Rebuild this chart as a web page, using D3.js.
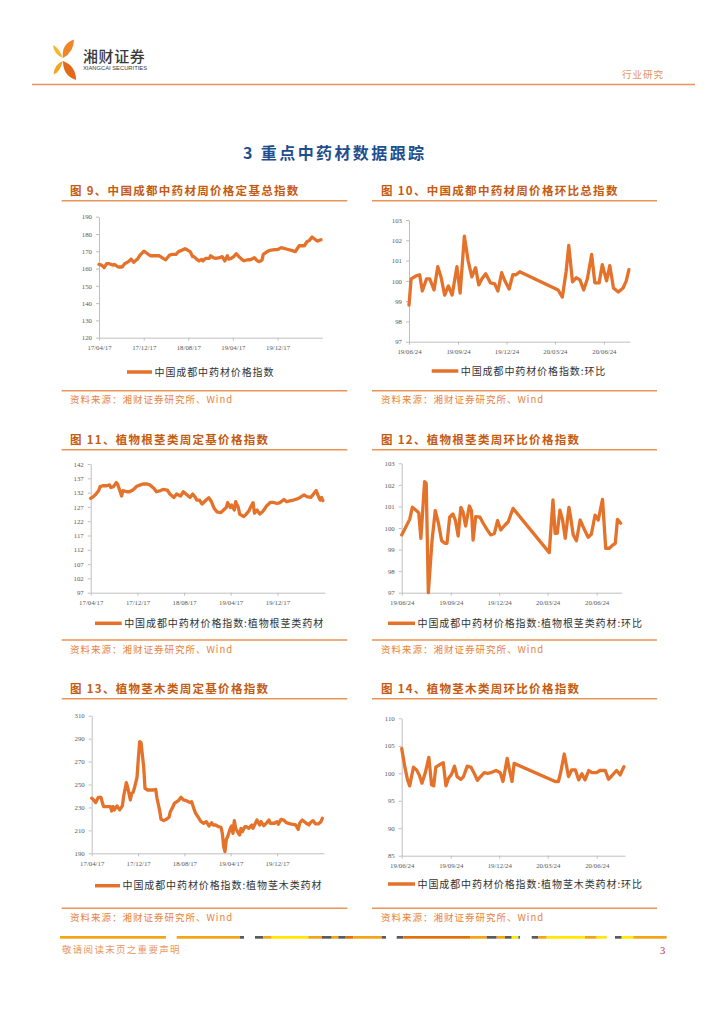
<!DOCTYPE html>
<html><head><meta charset="utf-8">
<script src="https://cdn.jsdelivr.net/npm/d3@7"></script>
<style>body{margin:0;background:#fff}svg{display:block}</style>
</head><body>
<svg id="c" width="724" height="1024"></svg>
<script>
// ---------------- DATA ----------------
const fixedStart = "2017-04-17";
const ringStart = "2019-06-24";
const fixedTicks = ["2017-04-17","2017-12-17","2018-08-17","2019-04-17","2019-12-17"];
const ringTicks = ["2019-06-24","2019-09-24","2019-12-24","2020-03-24","2020-06-24"];

// Fig 9: weeks since fixedStart / index values
const c9Week = [0,2,4,6,8,11,12,15,18,20,23,25,27,30,32,35,37,40,42,45,47,50,52,55,57,60,62,65,67,69,71,73,74,76,78,80,81,83,86,87,89,91,94,96,98,100,101,103,105,107,109,111,113,116,118,121,123,125,127,128,131,133,137,139,142,146,150,153,156,160,162,164,166,168,170,173];
const c9Val = [162.4,162,160.5,162.8,162.8,162,162.4,160.9,160.9,162.8,164,165.5,163.6,165.5,167.8,170.1,169,167.4,167.4,167.4,167.4,165.9,165.1,167.8,168.2,168.2,169.8,170.7,171.5,170.7,169.8,166.9,166.9,165.5,164.4,165.3,164.4,165.9,165.9,167.4,166.3,165.9,166.3,166.9,164.4,167.4,165.5,165.9,166.9,168.6,166.9,165.5,164.5,165.1,165.1,166.3,164.7,164,164.9,168.2,169.8,170.5,170.9,170.9,172.1,171.3,170.5,169.8,173.2,173.2,175.5,176.3,178.2,177.1,175.9,176.7];
const c9YTicks = [120,130,140,150,160,170,180,190];

// Fig 10: weeks since ringStart / ring index
const c10Week = [0,0.5,2,2.8,3.6,4.7,5.6,6.7,7.7,8.6,9.6,10.5,11.6,12.9,13.7,14.8,15.9,16.8,17.8,18.7,19.5,20.6,21.9,23,23.9,24.8,25.7,26.8,27.8,28.7,29.7,40,41.1,42.1,42.9,43.8,44.9,45.8,46.8,47.8,49,49.9,51,51.9,53,53.8,54.9,56.1,57.4,58.3,59];
const c10Val = [98.8,100.1,100.25,100.3,99.5,100.1,100.1,99.55,100.7,100.2,99.3,99.75,99.3,100.7,99.4,102.2,101,100.2,100.65,99.8,100.1,100.35,99.9,99.85,99.5,100.4,100,99.6,100.3,100.3,100.45,99.55,99.2,100.45,101.75,99.95,100.15,100.05,99.55,100.1,101.3,99.9,99.9,100.8,100,100.75,99.65,99.45,99.65,100,100.55];
const c10YTicks = [97,98,99,100,101,102,103];

// Fig 11
const c11Week = [0,2,4,6,7,9,12,14,15,17,19,20,22,23,24,27,29,32,34,37,39,42,44,47,49,52,54,57,59,62,64,67,69,71,74,76,78,79,81,83,86,88,90,92,94,97,99,101,102,104,105,107,108,110,111,114,116,118,119,121,122,124,126,128,129,131,134,136,139,141,144,146,149,151,154,156,159,161,164,166,168,170,171,172,173];
const c11Val = [130,130.6,131.5,132.7,134.1,134.4,134.4,134.7,133.8,134.1,135.5,135,132.3,130.8,132.7,132.3,132.3,133.1,134.1,134.7,135,135,134.7,133.5,132.3,132.7,133.1,132.9,131.5,130.3,131.5,130.8,132.3,131.5,130.3,131.5,130.3,129.4,129.4,128,129.4,130.2,128.8,126.5,125.3,125,125.9,126.8,128.5,126.8,127.7,125.9,128.8,126.8,124.5,123.6,124.5,125.7,126.8,128.5,124.8,125.9,124.5,125.3,125.9,127.3,128.6,128.6,128.2,128.5,129.6,128.8,129.2,129.4,129.8,130.3,131.2,130.6,130.3,131.5,132.7,130.3,129.4,130.3,129.2];
const c11YTicks = [97,102,107,112,117,122,127,132,137,142];

// Fig 12
const c12Week = [0,1.2,2.2,2.9,4,4.6,5.2,6.1,6.5,7.2,8.1,9,9.8,10.7,11.6,12.2,12.8,13.7,14.4,15.1,15.8,16.4,17.2,18.1,18.7,19.2,19.9,21,21.9,22.8,23.9,24.8,25.7,26.6,27.7,28.6,29.9,39.5,40.5,41.1,41.7,42.4,43.2,43.8,44.9,45.3,46,46.9,47.8,48.9,50,50.9,51.9,52.7,53.8,54.7,55.7,56.6,57.3,57.9,58.7];
const c12Val = [99.68,100.06,100.4,100.96,100.8,100.71,99.52,102.15,102.07,97,99.44,100.8,100.22,99.41,99.29,99.29,100.5,100.65,100.34,99.63,100.96,100.76,100.09,101.02,100.8,99.44,100.53,100.5,100.22,99.94,99.68,99.75,100.34,99.91,100.14,100.29,100.91,98.86,101.3,99.75,99.75,100.83,100.37,99.52,100.96,100.53,99.68,99.41,100.37,99.98,99.57,99.71,100.6,100.37,101.33,99.06,99.06,99.21,99.29,100.4,100.22];
const c12YTicks = [97,98,99,100,101,102,103];

// Fig 13
const c13Week = [0,1,3,5,7,8,9,11,14,15,16,17,19,21,23,24,26,27,29,30,31,32,34,35,36,37,39,40,42,44,46,48,49,51,52,54,56,58,59,61,62,65,67,69,71,74,75,77,78,80,82,84,86,88,90,91,93,95,97,98,99,100,101,102,104,105,106,107,108,110,111,112,113,115,116,118,120,121,123,124,126,127,129,131,133,134,137,139,140,142,144,146,149,153,155,156,158,161,163,164,166,168,170,172,173];
const c13Val = [238,237.1,234.2,238.8,238.8,234.2,230.7,230.7,230.7,226.9,230.7,227.8,231.3,227.8,231.3,240,251.6,247.5,236.5,242.3,242.9,246.7,256.3,272.8,287.3,286.5,265.5,246.7,245.2,245.2,245.2,245.8,238,227.2,219.6,218.5,219.6,221.4,226.3,230.7,233.6,235.9,238.8,236.5,235.9,234.2,235,227.8,224.9,221.4,217.6,216.2,217.6,213.8,216.7,214.7,214.7,213.3,212.7,207.4,195.8,191.5,202.2,204.5,211.8,213.8,207.4,218.5,211.8,207.4,205.9,211.8,208.9,213.3,213.3,211.8,214.7,211.8,216.7,219,214.7,217.6,214.1,216.2,219,216.2,216.2,217.6,215.3,219.6,219,216.7,215.6,214.7,210.9,216.2,219,216.2,214.7,216.7,218.5,215.6,215.6,217.6,220.5];
const c13YTicks = [190,210,230,250,270,290,310];

// Fig 14
const c14Week = [0,0.9,1.5,2.2,3.1,4,4.7,5.4,6.3,7.3,8,8.5,9.1,10,11.2,11.9,12.5,13.4,14.1,14.9,15.8,16.5,17.6,18.5,19.4,20.3,21.2,22.1,23,23.9,25.3,26.4,27.1,28.3,28.9,29.5,30.1,41.1,42,42.6,43.6,44.7,45.6,46.5,47.4,48.3,49.2,50.1,51,52.1,53.2,54.5,55.4,56.3,57.6,58.5,59.2,59.6];
const c14Val = [104.5,101.1,98.8,97.7,101.1,100.6,99.7,98.2,100,102.9,97.9,97.7,101.1,101.5,101.9,97.7,99.1,99.9,101.3,99.4,98.9,99.4,101.3,101.1,100,98.7,99.4,100.1,100,100.1,100.5,100.1,98.5,102.7,100.7,98.5,101.8,98.5,98.5,100,103.5,99.4,100.6,100.6,98.8,99.9,98.8,100.5,100.1,100.1,100.5,100.5,98.9,99.5,100.5,99.7,100.6,101.2];
const c14YTicks = [85,90,95,100,105,110];

const titles = ["图 9、中国成都中药材周价格定基总指数","图 10、中国成都中药材周价格环比总指数","图 11、植物根茎类周定基价格指数","图 12、植物根茎类周环比价格指数","图 13、植物茎木类周定基价格指数","图 14、植物茎木类周环比价格指数"];
const legends = ["中国成都中药材价格指数","中国成都中药材价格指数:环比","中国成都中药材价格指数:植物根茎类药材","中国成都中药材价格指数:植物根茎类药材:环比","中国成都中药材价格指数:植物茎木类药材","中国成都中药材价格指数:植物茎木类药材:环比"];
const sourceText = "资料来源：湘财证券研究所、Wind";

// ---------------- DRAW ----------------
const svg = d3.select("#c");
svg.append("rect").attr("width",724).attr("height",1024).attr("fill","#fff");
const parse = d3.utcParse("%Y-%m-%d");
const fmt = d3.utcFormat("%y/%m/%d");
const ORANGE = "#E5722A";
const RULE = "#EC9357";
const CJK = "'Noto Sans CJK SC','Noto Sans',sans-serif";

// header logo
const logo = svg.append("g");
function leaf(p0,p1,c1,c2,fill){
  logo.append("path").attr("d",`M${p0[0]},${p0[1]} Q${c1[0]},${c1[1]} ${p1[0]},${p1[1]} Q${c2[0]},${c2[1]} ${p0[0]},${p0[1]} Z`).attr("fill",fill);
}
leaf([63,58],[74,39.5],[61,44],[74,52],"#EE8628");
leaf([63,61],[76,80],[63,76],[76,66],"#E2681A");
leaf([63,58],[53,45],[58,46.5],[53.5,54],"#F8B630");
leaf([63,61],[53.5,74.5],[54.5,64],[59.5,73],"#F4A424");
svg.append("text").attr("x",83).attr("y",61.5).attr("font-family",CJK).attr("font-size",15).attr("font-weight",500)
  .attr("fill","#3a3a3a").attr("letter-spacing",0.6).text("湘财证券");
svg.append("text").attr("x",83).attr("y",69.5).attr("font-family","'Liberation Sans',sans-serif").attr("font-size",5.6)
  .attr("fill","#3a3a3a").attr("textLength",64).attr("lengthAdjust","spacingAndGlyphs").text("XIANGCAI SECURITIES");
svg.append("text").attr("x",622).attr("y",78).attr("font-family",CJK).attr("font-size",9.5)
  .attr("fill","#E39560").attr("letter-spacing",1).text("行业研究");
svg.append("line").attr("x1",32).attr("x2",695).attr("y1",84.5).attr("y2",84.5).attr("stroke","#E9945C").attr("stroke-width",1.5);

// section heading
svg.append("text").attr("x",243).attr("y",159).attr("font-family",CJK).attr("font-size",16).attr("font-weight",700)
  .attr("fill","#1F4E8F").attr("letter-spacing",2.4).text("3 重点中药材数据跟踪");

function chart(o){
  const g = svg.append("g");
  const start = parse(o.start);
  const x = d3.scaleUtc().domain([start, d3.utcDay.offset(start, o.spanDays)]).range([o.x0, o.x1]);
  const y = d3.scaleLinear().domain([o.yTicks[0], o.yTicks[o.yTicks.length-1]]).range([o.yBot, o.yTop]);

  // title + rule
  g.append("text").attr("x",o.tx).attr("y",o.titleY).attr("font-family",CJK).attr("font-size",11.5).attr("font-weight",700)
    .attr("fill","#C55A11").attr("letter-spacing",1.3).text(o.title);
  g.append("line").attr("x1",o.ruleX[0]).attr("x2",o.ruleX[1]).attr("y1",o.titleY+5.7).attr("y2",o.titleY+5.7)
    .attr("stroke",RULE).attr("stroke-width",1.5);

  // axes
  const ya = g.append("g").attr("transform",`translate(${o.x0},0)`)
    .call(d3.axisLeft(y).tickValues(o.yTicks).tickSize(3).tickSizeOuter(0).tickPadding(4).tickFormat(d3.format("d")));
  const xa = g.append("g").attr("transform",`translate(0,${o.yBot})`)
    .call(d3.axisBottom(x).tickValues(o.xTicks.map(parse)).tickSize(3).tickSizeOuter(0).tickPadding(4.5).tickFormat(fmt));
  [ya,xa].forEach(a=>{
    a.select(".domain").attr("stroke","#BFBFBF").attr("stroke-width",1);
    a.selectAll(".tick line").attr("stroke","#BFBFBF");
    a.selectAll("text").attr("font-family","'Liberation Serif',serif").attr("font-size",6.8).attr("fill","#595959");
  });

  // line
  const pts = o.weeks.map((w,i)=>({d:d3.utcDay.offset(start, Math.round(w*7)), v:o.vals[i]}));
  g.append("path").datum(pts)
    .attr("d", d3.line().x(p=>x(p.d)).y(p=>y(p.v)))
    .attr("fill","none").attr("stroke",ORANGE).attr("stroke-width",3.3)
    .attr("stroke-linejoin","round").attr("stroke-linecap","round");

  // legend
  g.append("line").attr("x1",o.legX[0]).attr("x2",o.legX[1]).attr("y1",o.legY).attr("y2",o.legY)
    .attr("stroke",ORANGE).attr("stroke-width",3.5);
  g.append("text").attr("x",o.legX[1]+2.5).attr("y",o.legY+3.6).attr("font-family",CJK).attr("font-size",10)
    .attr("fill","#333").attr("letter-spacing",0.9).text(o.legend);

  // source
  g.append("line").attr("x1",o.ruleX[0]).attr("x2",o.ruleX[1]).attr("y1",o.srcY).attr("y2",o.srcY)
    .attr("stroke",RULE).attr("stroke-width",1.5);
  g.append("text").attr("x",o.tx).attr("y",o.srcY+12.5).attr("font-family",CJK).attr("font-size",9.5)
    .attr("fill","#E8823E").attr("letter-spacing",1).text(sourceText);
}

const L = {tx:70, ruleX:[61.7,347.3]};
const R = {tx:381, ruleX:[372,657]};

chart({...L, start:fixedStart, spanDays:1218, xTicks:fixedTicks, yTicks:c9YTicks, weeks:c9Week, vals:c9Val,
  x0:99, x1:322.3, yTop:216.7, yBot:337.7, titleY:195, title:titles[0], legend:legends[0], legX:[127,152], legY:372, srcY:390.7});
chart({...R, start:ringStart, spanDays:415, xTicks:ringTicks, yTicks:c10YTicks, weeks:c10Week, vals:c10Val,
  x0:409, x1:630, yTop:220, yBot:341.7, titleY:195, title:titles[1], legend:legends[1], legX:[431.7,458.3], legY:371, srcY:390.7});
chart({...L, start:fixedStart, spanDays:1222, xTicks:fixedTicks, yTicks:c11YTicks, weeks:c11Week, vals:c11Val,
  x0:90.7, x1:325, yTop:464, yBot:592.7, titleY:444, title:titles[2], legend:legends[2], legX:[95,121.7], legY:623.3, srcY:640});
chart({...R, start:ringStart, spanDays:413, xTicks:ringTicks, yTicks:c12YTicks, weeks:c12Week, vals:c12Val,
  x0:401.7, x1:621.7, yTop:463.3, yBot:592.7, titleY:444, title:titles[3], legend:legends[3], legX:[388,415], legY:623.3, srcY:640});
chart({...L, start:fixedStart, spanDays:1220, xTicks:fixedTicks, yTicks:c13YTicks, weeks:c13Week, vals:c13Val,
  x0:91.7, x1:324, yTop:715.7, yBot:853.3, titleY:693, title:titles[4], legend:legends[4], legX:[95,120], legY:885.7, srcY:908.3});
chart({...R, start:ringStart, spanDays:419, xTicks:ringTicks, yTicks:c14YTicks, weeks:c14Week, vals:c14Val,
  x0:401.7, x1:625, yTop:718.3, yBot:855.7, titleY:693, title:titles[5], legend:legends[5], legX:[388,415], legY:884, srcY:908.3});

// footer decorative bar
const GR="#5B5B5B", OR="#F2A516", YE="#FFE900", DO="#E2700A", TE="#2E8B6E";
const footerBar = [
  [60,166,OR],[176.7,240,OR],[240,244,GR],
  [255,263.3,GR],[263.3,271.7,OR],[271.7,308.3,YE],[308.3,321.7,OR],[321.7,331.7,GR],[331.7,338.3,OR],[338.3,345,GR],[345,353.3,DO],[353.3,381.7,OR],[381.7,386,GR],
  [396.7,403.3,GR],[403.3,470,DO],[470,486.7,OR],[486.7,496.7,GR],[496.7,505,OR],[505,511.7,GR],[511.7,518.3,YE],[518.3,520,TE],
  [531.7,538.3,GR],[538.3,546.7,OR],[546.7,585,YE],[585,596.7,OR],[596.7,606.7,YE],
  [615,621.7,GR],[621.7,633.3,YE],[633.3,666.7,OR]
];
svg.append("g").selectAll("rect").data(footerBar).join("rect")
  .attr("x",d=>d[0]).attr("width",d=>d[1]-d[0]).attr("y",936).attr("height",2.7).attr("fill",d=>d[2]);
svg.append("text").attr("x",62).attr("y",953).attr("font-family",CJK).attr("font-size",9.5)
  .attr("fill","#E8965F").attr("letter-spacing",1.3).text("敬请阅读末页之重要声明");
svg.append("text").attr("x",660).attr("y",953.5).attr("font-family","'Liberation Serif',serif").attr("font-size",10.5)
  .attr("fill","#C0304A").text("3");
</script>
</body></html>
